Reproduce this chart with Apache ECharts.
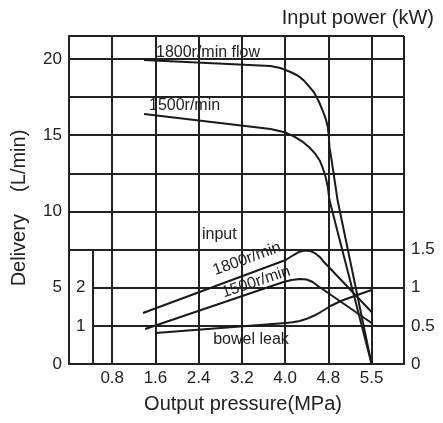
<!DOCTYPE html>
<html>
<head lang="en">
    <meta charset="UTF-8">
    <title>Delivery / input power vs output pressure</title>
    <script src="https://cdn.jsdelivr.net/npm/echarts@6.0.0/dist/echarts.min.js"></script>
</head>
<body style="margin:0;background:#fff;">
<div id="container" style="height:423px;width:443px;"></div>
<script>
    // x ticks sit on the grid columns; the last column is labelled 5.5
    var pressureTicks = [0.8, 1.6, 2.4, 3.2, 4.0, 4.8, 5.6];
    var pressureLabels = ['0.8', '1.6', '2.4', '3.2', '4.0', '4.8', '5.5'];
    var deliveryTicks = [0, 5, 10, 15, 20];
    var powerTicks = [0, 0.5, 1, 1.5];
    var leakTicks = [1, 2];

    // delivery (L/min)
    var flow1800 = [[1.39, 19.93], [3.73, 19.53], [3.91, 19.40], [4.10, 19.14], [4.23, 18.91],
        [4.34, 18.61], [4.43, 18.25], [4.53, 17.83], [4.62, 17.24], [4.69, 16.65],
        [4.75, 16.09], [4.79, 15.53], [4.81, 14.88], [4.82, 14.22], [4.86, 13.37],
        [4.97, 10.75], [5.6, 0]];
    var flow1500 = [[1.39, 16.39], [3.73, 15.40], [4.01, 15.17], [4.17, 14.91], [4.32, 14.58],
        [4.45, 14.19], [4.56, 13.77], [4.64, 13.34], [4.69, 12.91], [4.75, 12.26],
        [4.79, 11.60], [4.82, 10.75], [5.6, 0]];
    // input power (kW)
    var input1800 = [[1.37, 0.669], [4.01, 1.363], [4.14, 1.422], [4.25, 1.468], [4.36, 1.488],
        [4.47, 1.481], [4.56, 1.449], [4.64, 1.403], [4.71, 1.344], [5.6, 0.682]];
    var input1500 = [[1.41, 0.459], [3.97, 1.075], [4.12, 1.101], [4.27, 1.114], [4.40, 1.108],
        [4.51, 1.075], [4.62, 1.016], [4.73, 0.964], [5.6, 0.537]];
    // bowel leak (inner scale)
    var bowelLeak = [[1.60, 0.813], [4.01, 1.075], [4.14, 1.093], [4.27, 1.127], [4.40, 1.185],
        [4.53, 1.264], [4.66, 1.363], [4.84, 1.521], [5.03, 1.652], [5.31, 1.796], [5.6, 1.940]];

    var ink = '#222';
    var font = 'Liberation Sans, Arial, sans-serif';

    var dom = document.getElementById("container");
    var myChart = echarts.init(dom);

    function curve(name, data, axis) {
        return {
            name: name,
            type: 'line',
            yAxisIndex: axis,
            data: data,
            symbol: 'none',
            smooth: false,
            lineStyle: {color: '#1a1a1a', width: 2, join: 'round'},
            silent: true
        };
    }

    function note(text, x, y, align, rot) {
        return {
            type: 'text', x: x, y: y, rotation: (rot || 0) * Math.PI / 180, silent: true,
            style: {text: text, fill: ink, font: '16px ' + font, align: align, verticalAlign: 'middle'}
        };
    }

    var gridLine = {show: true, lineStyle: {color: ink, width: 2}};

    var option = {
        animation: false,
        textStyle: {fontFamily: font},
        title: {
            text: 'Input power (kW)', right: 4, top: 3,
            textStyle: {fontSize: 20, fontWeight: 'normal', color: ink, fontFamily: font}
        },
        grid: {left: 69, right: 39, top: 36, bottom: 59},
        xAxis: {
            type: 'value', min: 0, max: 6.2, interval: 0.8,
            name: 'Output pressure(MPa)', nameLocation: 'middle', nameGap: 30,
            nameTextStyle: {fontSize: 20, color: ink, padding: [0, 0, 0, 13]},
            axisLine: gridLine, axisTick: {show: false},
            splitLine: gridLine,
            axisLabel: {
                customValues: pressureTicks, fontSize: 17, color: ink, margin: 6,
                formatter: function (v) {
                    for (var i = 0; i < pressureTicks.length; i++) {
                        if (Math.abs(pressureTicks[i] - v) < 1e-6) return pressureLabels[i];
                    }
                    return '';
                }
            }
        },
        yAxis: [
            {
                type: 'value', min: 0, max: 21.5, interval: 2.5, position: 'left',
                name: 'Delivery    (L/min)', nameLocation: 'middle', nameGap: 40,
                nameTextStyle: {fontSize: 20, color: ink, padding: [0, 16, 0, 0]},
                axisLine: gridLine, axisTick: {show: false},
                splitLine: gridLine,
                axisLabel: {customValues: deliveryTicks, fontSize: 17, color: ink, margin: 7}
            },
            {
                type: 'value', min: 0, max: 4.3, interval: 0.5, position: 'right',
                axisLine: {show: false}, axisTick: {show: false}, splitLine: {show: false},
                axisLabel: {customValues: powerTicks, fontSize: 17, color: ink, margin: 7}
            },
            {
                type: 'value', min: 0, max: 8.6, interval: 1, position: 'left',
                axisLine: {show: false}, axisTick: {show: false}, splitLine: {show: false},
                axisLabel: {
                    customValues: leakTicks, inside: true, margin: 1,
                    formatter: '{b|{value}}',
                    rich: {b: {fontSize: 17, color: ink, backgroundColor: '#fff', padding: [2, 8, 2, 6]}}
                }
            }
        ],
        graphic: [
            note('1800r/min flow', 156, 53, 'left'),
            note('1500r/min', 149, 106, 'left'),
            note('input', 202, 235, 'left'),
            note('1800r/min', 247, 259, 'center', 20),
            note('1500r/min', 256, 282, 'center', 18.5),
            note('bowel leak', 251, 340, 'center')
        ],
        series: [
            Object.assign(curve('1800r/min flow', flow1800, 0), {
                markLine: {
                    silent: true, symbol: ['none', 'none'], label: {show: false},
                    lineStyle: {type: 'solid', color: ink, width: 2},
                    data: [[{coord: [0.445, 0]}, {coord: [0.445, 7.5]}]]
                }
            }),
            curve('1500r/min flow', flow1500, 0),
            curve('1800r/min input', input1800, 1),
            curve('1500r/min input', input1500, 1),
            curve('bowel leak', bowelLeak, 2)
        ]
    };

    myChart.setOption(option);
</script>
</body>
</html>
